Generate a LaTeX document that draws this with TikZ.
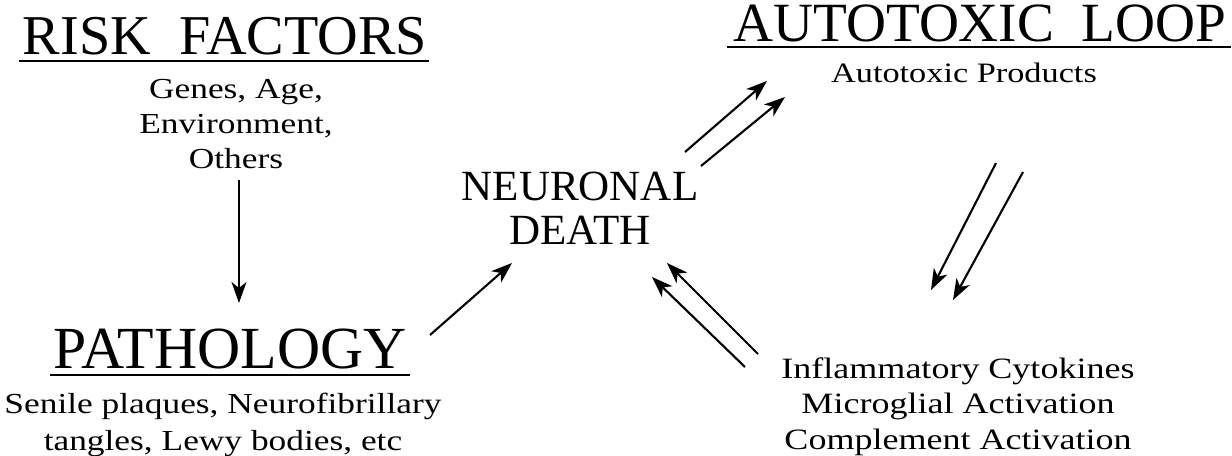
\documentclass[tikz,border=0pt]{standalone}
\usepackage{fontspec}
\setmainfont{Liberation Serif}
\newfontfamily\itemfont{Liberation Serif}[FakeStretch=1.22]
\usetikzlibrary{arrows.meta, positioning}

\begin{document}
\begin{tikzpicture}[
    x=0.02cm, y=-0.02cm,
    heading/.style={inner sep=0pt, anchor=base, font=\fontsize{32}{38}\selectfont},
    items/.style={inner sep=0pt, anchor=north, align=center, font=\itemfont\fontsize{16.5}{19.9}\selectfont},
    death/.style={inner sep=0pt, anchor=north, align=center, font=\fontsize{24.5}{25}\selectfont},
    arrow/.style={-{Stealth[length=0.42cm, width=0.3cm, inset=0.12cm]}, line width=1.2pt},
    uline/.style={line width=1.4pt}
]
\useasboundingbox (0,0) rectangle (1232,456);

\node[heading] (risk) at (225,55) {RISK\ \ FACTORS};
\node[items] (riskitems) at (236,79) {Genes, Age,\\Environment,\\Others};
\node[heading, font=\fontsize{34}{40}\selectfont] (path) at (230,368) {PATHOLOGY};
\node[items, font=\itemfont\fontsize{16.5}{21}\selectfont] (pathitems) at (223,393) {Senile plaques, Neurofibrillary\\tangles, Lewy bodies, etc};
\node[death] (dth) at (580,172) {NEURONAL\\DEATH};
\node[heading, font=\fontsize{31.5}{38}\selectfont] (loop) at (980,42) {AUTOTOXIC\ \ LOOP};
\node[items, anchor=base, font=\itemfont\fontsize{16}{19}\selectfont] (products) at (964,83) {Autotoxic Products};
\node[items, font=\itemfont\fontsize{16.8}{20.2}\selectfont] (infl) at (958,357) {Inflammatory Cytokines\\Microglial Activation\\Complement Activation};

% underlines
\draw[uline] ([shift={(-4,6)}]risk.base west) -- ([shift={(2,6)}]risk.base east);
\draw[uline] ([shift={(-3,7)}]path.base west) -- ([shift={(3,7)}]path.base east);
\draw[uline] ([shift={(-6,5)}]loop.base west) -- ([shift={(4,5)}]loop.base east);

% arrows
\draw[arrow] ([shift={(3,101)}]riskitems.north) -- ([shift={(9,-65)}]path.base);
\draw[arrow] ([shift={(200,-33)}]path.base) -- ([shift={(-68,91)}]dth.north);
\draw[arrow] ([shift={(105,-20)}]dth.north) -- ([shift={(-197,-2)}]products.base);
\draw[arrow] ([shift={(121,-6)}]dth.north) -- ([shift={(-179,14)}]products.base);
\draw[arrow] ([shift={(32,80)}]products.base) -- ([shift={(-27,-67)}]infl.north);
\draw[arrow] ([shift={(59,89)}]products.base) -- ([shift={(-5,-57)}]infl.north);
\draw[arrow] ([shift={(-213,10)}]infl.north) -- ([shift={(72,105)}]dth.north);
\draw[arrow] ([shift={(-200,-3)}]infl.north) -- ([shift={(87,91)}]dth.north);

\end{tikzpicture}
\end{document}
